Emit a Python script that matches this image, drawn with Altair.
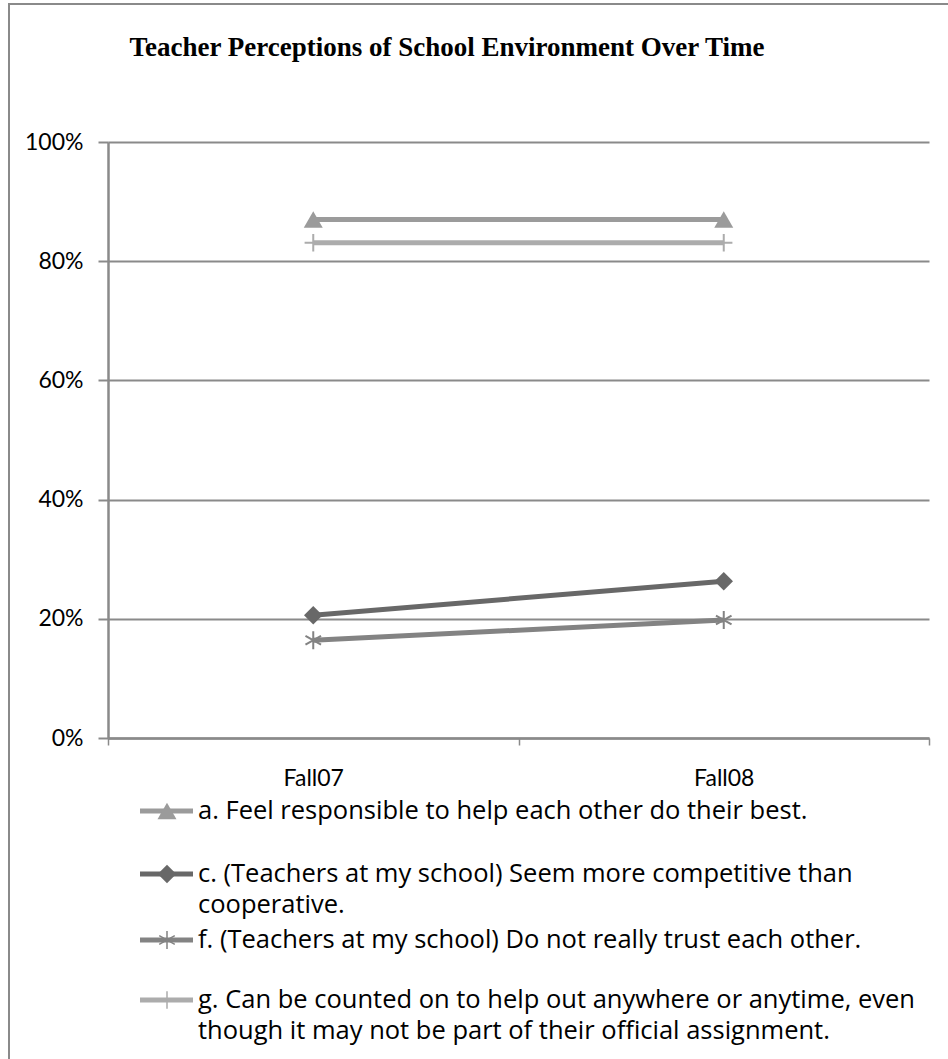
import altair as alt
import pandas as pd

# ---- data -------------------------------------------------------------
periods = ["Fall07", "Fall08"]
keys = ["a", "c", "f", "g"]
legend_lines = [
    ["a. Feel responsible to help each other do their best."],
    ["c. (Teachers at my school) Seem more competitive than", "cooperative."],
    ["f. (Teachers at my school) Do not really trust each other."],
    ["g. Can be counted on to help out anywhere or anytime, even",
     "though it may not be part of their official assignment."],
]
fall07 = [0.870, 0.206, 0.164, 0.831]
fall08 = [0.870, 0.263, 0.198, 0.831]
y_ticks = [0, 0.2, 0.4, 0.6, 0.8, 1.0]
title_text = "Teacher Perceptions of School Environment Over Time"

# ---- styling ----------------------------------------------------------
W, H = 821, 596
PAD_L, PAD_T = 108, 142
FONT = "Lato"
LEG_FONT = "Open Sans"
line_colors = ["#9b9b9b", "#686868", "#838383", "#acacac"]
ASTERISK = "M0,-1L0,1M-0.87,-0.5L0.87,0.5M-0.87,0.5L0.87,-0.5"
PLUS = "M-1,0L1,0M0,-1L0,1"
shapes = ["triangle-up", "diamond", ASTERISK, PLUS]
sizes = [360, 300, 280, 300]
leg_sizes = [260, 220, 200, 220]
filled_keys = ["a", "c"]
stroked_keys = ["f", "g"]

rows = []
for k, v0, v1 in zip(keys, fall07, fall08):
    rows.append({"key": k, "period": periods[0], "value": v0})
    rows.append({"key": k, "period": periods[1], "value": v1})
df = pd.DataFrame(rows)

color = alt.Color("key:N", scale=alt.Scale(domain=keys, range=line_colors), legend=None)
shape = alt.Shape("key:N", scale=alt.Scale(domain=keys, range=shapes), legend=None)
size = alt.Size("key:N", scale=alt.Scale(domain=keys, range=sizes), legend=None)

x_enc = alt.X(
    "period:N",
    scale=alt.Scale(type="band", domain=periods, paddingInner=0, paddingOuter=0),
    bandPosition=0.5,
    axis=alt.Axis(
        title=None, labelAngle=0, tickBand="extent", tickSize=7, tickColor="#8a8a8a",
        tickWidth=1.5, domainColor="#8a8a8a", domainWidth=2.5, labelFont=FONT,
        labelFontSize=23, labelColor="#000000", labelPadding=22, grid=False,
    ),
)
y_enc = alt.Y(
    "value:Q",
    scale=alt.Scale(domain=[0, 1]),
    axis=alt.Axis(
        title=None, values=y_ticks, format=".0%", grid=True, gridColor="#8a8a8a",
        gridWidth=2, tickSize=10, tickColor="#8a8a8a", tickWidth=2,
        domainColor="#8a8a8a", domainWidth=2.5, labelFont=FONT, labelFontSize=23,
        labelColor="#000000", labelPadding=15,
    ),
)

base = alt.Chart(df)
lines = base.mark_line(strokeWidth=5).encode(x=x_enc, y=y_enc, color=color, detail="key:N")
pts_filled = (
    base.transform_filter(alt.FieldOneOfPredicate(field="key", oneOf=filled_keys))
    .mark_point(filled=True, opacity=1)
    .encode(x=x_enc, y=y_enc, color=color, shape=shape, size=size)
)
pts_stroked = (
    base.transform_filter(alt.FieldOneOfPredicate(field="key", oneOf=stroked_keys))
    .mark_point(filled=False, opacity=1, strokeWidth=2)
    .encode(x=x_enc, y=y_enc, color=color, shape=shape, size=size)
)

# ---- legend below the axis -------------------------------------------
legend_row_y = [811, 874, 940, 1000]
line_gap = 31
sym_x0, sym_x1, sym_mid, text_x = 140, 193, 167, 198
leg_rows, leg_text = [], []
for k, ly, lines_ in zip(keys, legend_row_y, legend_lines):
    leg_rows.append({"key": k, "x0": sym_x0 - PAD_L, "x1": sym_x1 - PAD_L,
                     "xm": sym_mid - PAD_L, "ly": ly - PAD_T})
    for i, t in enumerate(lines_):
        leg_text.append({"t": t, "tx": text_x - PAD_L, "ty": ly - PAD_T + i * line_gap})
leg_df = pd.DataFrame(leg_rows)
leg_text_df = pd.DataFrame(leg_text)

leg_size = alt.Size("key:N", scale=alt.Scale(domain=keys, range=leg_sizes), legend=None)
lx0 = alt.X("x0:Q", scale=None, axis=None)
lxm = alt.X("xm:Q", scale=None, axis=None)
lyy = alt.Y("ly:Q", scale=None, axis=None)
leg_lines = alt.Chart(leg_df).mark_rule(strokeWidth=5).encode(x=lx0, x2="x1:Q", y=lyy, color=color)
leg_pts_f = (
    alt.Chart(leg_df).transform_filter(alt.FieldOneOfPredicate(field="key", oneOf=filled_keys))
    .mark_point(filled=True, opacity=1)
    .encode(x=lxm, y=lyy, color=color, shape=shape, size=leg_size)
)
leg_pts_s = (
    alt.Chart(leg_df).transform_filter(alt.FieldOneOfPredicate(field="key", oneOf=stroked_keys))
    .mark_point(filled=False, opacity=1, strokeWidth=1.5)
    .encode(x=lxm, y=lyy, color=color, shape=shape, size=leg_size)
)
leg_labels = alt.Chart(leg_text_df).mark_text(
    align="left", baseline="middle", font=LEG_FONT, fontSize=25.5, color="#000000"
).encode(x=alt.X("tx:Q", scale=None, axis=None), y=alt.Y("ty:Q", scale=None, axis=None), text="t:N")

# ---- title and outer frame -------------------------------------------
one = pd.DataFrame({"t": [title_text]})
title = alt.Chart(one).mark_text(
    font="Liberation Serif", fontWeight="bold", fontSize=27, color="#000000",
    align="center", baseline="middle",
).encode(x=alt.value(447 - PAD_L), y=alt.value(48 - PAD_T), text="t:N")
frame = alt.Chart(one).mark_rect(
    fillOpacity=0, stroke="#8a8a8a", strokeWidth=2
).encode(
    x=alt.value(9 - PAD_L), x2=alt.value(948 - PAD_L + 20),
    y=alt.value(4 - PAD_T), y2=alt.value(1059 - PAD_T + 20),
)

chart = (
    alt.layer(frame, title, lines, pts_filled, pts_stroked,
              leg_lines, leg_pts_f, leg_pts_s, leg_labels)
    .properties(
        width=W, height=H,
        padding={"left": PAD_L, "top": PAD_T, "right": 948 - PAD_L - W, "bottom": 1059 - PAD_T - H},
        autosize=alt.AutoSizeParams(type="none"),
        background="#ffffff",
    )
    .configure_view(strokeWidth=0)
)

chart.save("out.html", embed_options={"renderer": "svg", "actions": False})
